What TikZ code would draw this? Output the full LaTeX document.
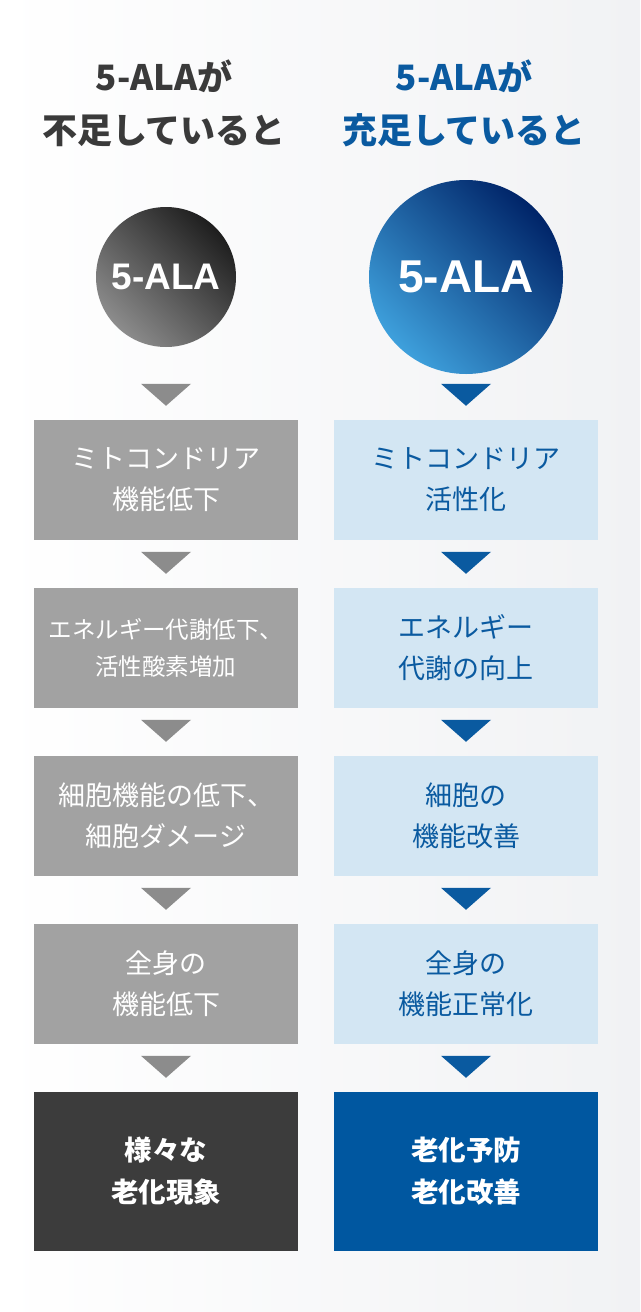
\documentclass[tikz,border=0pt]{standalone}
\usepackage{fontspec}
\setmainfont{Noto Sans CJK JP}
\newfontfamily\latinbold{Liberation Sans}[BoldFont={Liberation Sans Bold}]
\usetikzlibrary{calc}
\definecolor{darktxt}{HTML}{3A3A3A}
\definecolor{bluetxt}{HTML}{0A5AA0}
\definecolor{greybox}{HTML}{A2A2A2}
\definecolor{greytri}{HTML}{8C8C8C}
\definecolor{lightbox}{HTML}{D3E6F3}
\definecolor{bluetri}{HTML}{0A5AA0}
\definecolor{darkbox}{HTML}{3C3C3C}
\definecolor{bluebox}{HTML}{0057A0}
\definecolor{bgright}{HTML}{F1F2F4}
\tikzset{
  boxbase/.style={rectangle, minimum width=264pt, minimum height=120pt, inner sep=0pt, align=center, font=\fontsize{27}{41}\selectfont},
  greyb/.style={boxbase, fill=greybox, text=white},
  blueb/.style={boxbase, fill=lightbox, text=bluetxt},
  lastgrey/.style={boxbase, minimum height=159pt, fill=darkbox, text=white, font=\fontsize{27.5}{42}\selectfont\bfseries},
  lastblue/.style={boxbase, minimum height=159pt, fill=bluebox, text=white, font=\fontsize{27.5}{42}\selectfont\bfseries},
  header/.style={align=center, font=\fontsize{35}{53}\selectfont\bfseries, inner sep=0pt},
}
\newcommand{\tri}[2]{\fill[#2] ($(#1.north)+(-25,-36)$) -- ($(#1.north)+(25,-36)$) -- ($(#1.north)+(0,-14)$) -- cycle;}
\begin{document}
\begin{tikzpicture}[x=1pt,y=-1pt]
\shade[left color=white, right color=bgright] (0,0) rectangle (640,1312);
\useasboundingbox (0,0) rectangle (640,1312);
% headers
\node[header, text=darktxt] (hl) at (164,103) {5-ALAが\\不足していると};
\node[header, text=bluetxt] (hr) at (464,103) {5-ALAが\\充足していると};
% circles
\shade[shading=axis, top color={rgb,255:red,30;green,30;blue,30}, bottom color={rgb,255:red,140;green,140;blue,140}, shading angle=-45] (166,277) circle (70);
\node[font=\fontsize{37}{37}\latinbold\bfseries, text=white, inner sep=0pt] (cl) at (166,277) {5-ALA};
\shade[shading=axis, top color={rgb,255:red,0;green,36;blue,104}, bottom color={rgb,255:red,62;green,160;blue,220}, shading angle=-45] (466,277) circle (97);
\node[font=\fontsize{46}{46}\latinbold\bfseries, text=white, inner sep=0pt] (cr) at (466,277) {5-ALA};
% left column
\node[greyb] (l1) at (166,480) {ミトコンドリア\\機能低下};
\node[greyb, font=\fontsize{23.5}{37}\selectfont] (l2) at (166,648) {エネルギー代謝低下、\\活性酸素増加};
\node[greyb] (l3) at (166,816) {細胞機能の低下、\\細胞ダメージ};
\node[greyb] (l4) at (166,984) {全身の\\機能低下};
\node[lastgrey] (l5) at (166,1171.5) {様々な\\老化現象};
% right column
\node[blueb] (r1) at (466,480) {ミトコンドリア\\活性化};
\node[blueb] (r2) at (466,648) {エネルギー\\代謝の向上};
\node[blueb] (r3) at (466,816) {細胞の\\機能改善};
\node[blueb] (r4) at (466,984) {全身の\\機能正常化};
\node[lastblue] (r5) at (466,1171.5) {老化予防\\老化改善};
% arrows
\tri{l1}{greytri}\tri{l2}{greytri}\tri{l3}{greytri}\tri{l4}{greytri}\tri{l5}{greytri}
\tri{r1}{bluetri}\tri{r2}{bluetri}\tri{r3}{bluetri}\tri{r4}{bluetri}\tri{r5}{bluetri}
\end{tikzpicture}
\end{document}
